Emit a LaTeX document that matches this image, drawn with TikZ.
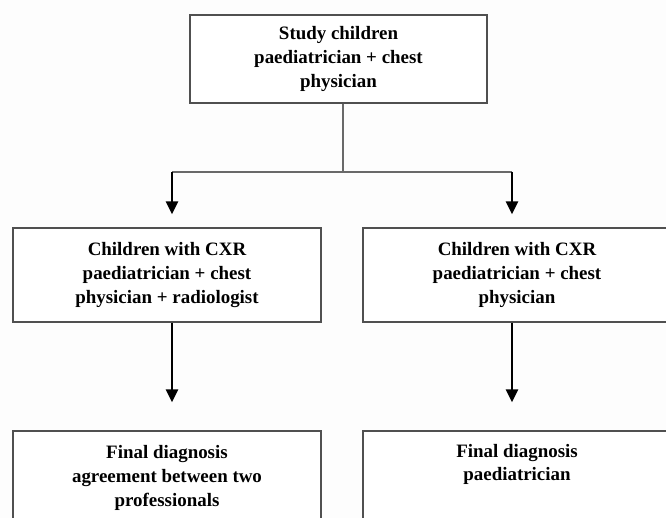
\documentclass[tikz,border=0pt]{standalone}
\usepackage{fontspec}
\setmainfont{Liberation Serif}
\usepackage{xcolor}
\usepackage{tikz}
\usetikzlibrary{arrows.meta, positioning, calc}
\definecolor{boxgray}{RGB}{80,80,80}
\definecolor{linkgray}{RGB}{105,105,105}
\definecolor{paper}{RGB}{253,253,253}

\begin{document}
\begin{tikzpicture}[
  x=1bp, y=-1bp,
  font=\fontsize{19}{24}\selectfont\bfseries,
  box/.style={draw=boxgray, line width=1.4bp, fill=white, align=center,
    inner sep=0pt, minimum width=308bp, minimum height=94bp},
  topbox/.style={box, minimum width=297bp, minimum height=88bp},
  link/.style={draw=linkgray, line width=1.4bp},
  arr/.style={-{Triangle[length=13bp, width=12bp]}, line width=2.8bp, black}
]
  \fill[paper] (0,0) rectangle (666,518);
  \clip (0,0) rectangle (666,518);
  \node[topbox] (study) at (338.5,59) {Study children\\ paediatrician + chest\\ physician};
  \node[box] (cxrL) at (167,275) {Children with CXR\\ paediatrician + chest\\ physician + radiologist};
  \node[box] (cxrR) at (517,275) {Children with CXR\\ paediatrician + chest\\ physician};
  \node[box] (finalL) at (167,478) {Final diagnosis\\ agreement between two\\ professionals};
  \node[box] (finalR) at (517,478) {Final diagnosis\\ paediatrician\\ \strut};
  % split below the first box
  \coordinate (split) at (343,172);
  \coordinate (legL) at (172,172);
  \coordinate (legR) at (512,172);
  \draw[link] (study.south -| split) -- (split);
  \draw[link] (legL) -- (legR);
  \draw[arr, shorten >=13bp] (legL) -- (legL |- cxrL.north);
  \draw[arr, shorten >=13bp] (legR) -- (legR |- cxrR.north);
  \draw[arr, shorten >=28bp] (cxrL.south -| legL) -- (finalL.north -| legL);
  \draw[arr, shorten >=28bp] (cxrR.south -| legR) -- (finalR.north -| legR);
\end{tikzpicture}
\end{document}
